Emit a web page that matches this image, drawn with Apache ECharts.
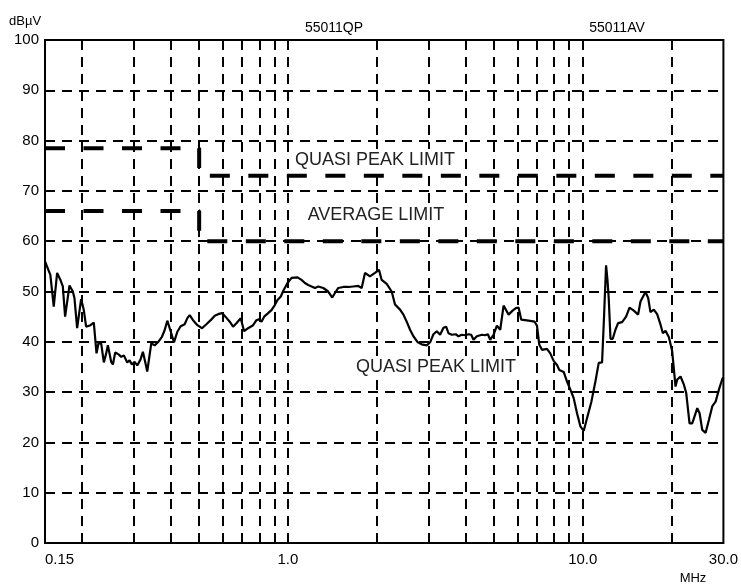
<!DOCTYPE html>
<html><head><meta charset="utf-8">
<script src="https://cdn.jsdelivr.net/npm/echarts@6/dist/echarts.min.js"></script>
<style>html,body{margin:0;padding:0;background:#fff}#c{width:741px;height:584px}</style>
</head><body><div id="c"></div>
<script>
// Measured trace (frequency in MHz, level in dBµV)
const freqMHz = [
0.150,0.1564,0.1606,0.1649,0.1692,0.1724,0.1755,0.1816,0.1864,0.1888,
0.1928,0.1989,0.2031,0.2068,0.2140,0.2196,0.2243,0.2278,0.2326,0.2375,
0.2419,0.2451,0.2516,0.2549,0.2596,0.2664,0.2720,0.2777,0.2851,0.2904,
0.2957,0.3019,0.3083,0.3164,0.3222,0.3281,0.3333,0.3440,0.3531,0.3624,
0.3739,0.3818,0.3899,0.4002,0.4108,0.4216,0.4327,0.4465,0.4560,0.4644,
0.4767,0.4931,0.5113,0.5290,0.5472,0.5647,0.5797,0.5981,0.6138,0.6349,
0.6516,0.6688,0.6919,0.7102,0.7328,0.7621,0.7822,0.7966,0.8134,0.8307,
0.8570,0.8796,0.9028,0.9219,0.9462,0.9636,0.9969,1.029,1.078,1.112,
1.142,1.172,1.203,1.235,1.267,1.318,1.363,1.388,1.414,1.444,
1.482,1.541,1.603,1.666,1.733,1.779,1.826,1.898,1.974,2.037,
2.080,2.163,
2.249,2.308,2.401,2.465,2.529,2.596,2.665,2.757,2.844,2.958,
3.036,3.116,3.199,3.283,3.370,3.441,3.505,3.597,3.711,3.790,
3.890,3.993,4.098,4.184,4.261,4.374,4.549,4.669,4.767,4.855,
4.983,5.115,5.250,5.389,5.604,5.781,5.934,6.059,6.187,6.553,
6.868,6.995,7.124,7.274,7.564,7.762,7.968,8.179,8.329,8.618,
8.845,9.079,9.318,9.564,9.817,10.08,10.34,10.70,11.04,11.33,
11.63,11.79,12.00,12.13,12.25,12.42,12.64,12.91,13.18,13.60,
14.03,14.41,14.90,15.41,15.70,16.32,16.67,16.97,17.42,17.88,
18.36,18.70,19.09,19.60,20.11,20.64,20.92,21.47,22.03,22.44,
23.03,23.52,24.46,24.91,25.43,26.11,26.80,27.51,28.23,28.97,
29.74,30.0
];
const levelDbuV = [
56.0,53.3,47.0,53.7,52.3,51.0,45.0,51.2,50.0,48.7,
42.7,48.5,46.3,43.0,43.3,43.8,37.7,39.7,39.7,35.9,
37.7,39.3,36.0,35.5,37.9,37.5,37.0,37.3,35.9,36.3,
35.5,36.0,35.3,36.5,38.0,36.0,34.1,39.7,39.3,39.9,
41.0,42.3,44.2,42.1,39.9,42.0,43.1,43.5,44.7,45.3,
44.3,43.3,42.7,43.5,44.3,45.2,45.5,45.7,45.0,44.0,
43.0,43.7,44.7,42.1,42.7,43.3,44.3,44.5,44.0,45.0,
45.7,46.3,47.3,48.3,49.0,50.1,51.7,52.7,52.8,52.3,
51.7,51.3,51.0,50.7,51.0,50.7,50.1,49.5,48.8,49.7,
50.7,50.9,50.9,51.0,51.1,50.7,53.7,53.0,53.7,54.3,
52.3,51.5,
50.0,47.4,46.4,45.4,44.0,42.4,41.1,39.9,39.5,39.3,
39.9,41.5,42.1,41.4,42.8,43.0,41.7,41.4,41.5,41.1,
41.4,41.3,41.5,41.4,40.4,41.1,41.4,41.3,41.5,40.4,
41.4,43.2,42.4,47.2,45.4,46.2,46.7,46.8,44.4,44.2,
44.0,43.2,39.4,38.4,38.6,37.7,36.2,35.4,34.4,34.0,
32.1,30.5,28.8,25.8,23.2,22.3,24.8,28.1,32.1,35.8,
35.9,44.0,55.2,52.3,48.7,40.6,40.6,42.4,43.7,43.9,
45.0,46.8,46.2,45.4,48.0,49.9,48.7,45.9,46.4,45.5,
43.4,41.7,42.2,40.9,38.1,31.1,32.5,33.1,31.5,29.8,
23.8,23.8,26.8,25.8,22.5,21.9,24.5,27.2,28.1,30.5,
32.6,32.9
];
// Limit lines (step at 0.5 MHz)
const qpLimitFreq = [0.15, 0.5, 0.5, 30];
const qpLimitLevel = [78.5, 78.5, 73, 73];
const avLimitFreq = [0.15, 0.5, 0.5, 30];
const avLimitLevel = [66, 66, 60, 60];
// Vertical grid frequencies
const gridFreqs = [0.2,0.3,0.4,0.5,0.6,0.7,0.8,0.9,1,2,3,4,5,6,7,8,9,10,20];
const xMin = 0.15, xMax = 30;
const yMin = 0, yMax = 100, yStep = 10;

const FONT = "'Liberation Sans', Arial, Helvetica, sans-serif";
const zip = (a, b) => a.map((v, i) => [v, b[i]]);

const chart = echarts.init(document.getElementById('c'), null, {renderer: 'canvas'});
chart.setOption({
  animation: false,
  backgroundColor: '#fff',
  grid: {left: 45, right: 17, top: 40, bottom: 41, show: true, borderColor: '#000', borderWidth: 2, backgroundColor: 'transparent'},
  xAxis: {
    type: 'log', logBase: 10, min: xMin, max: xMax,
    axisLine: {show: false}, axisTick: {show: false}, splitLine: {show: false}, minorTick: {show: false},
    axisLabel: {
      color: '#000', fontFamily: FONT, fontSize: 15, margin: 9,
      showMinLabel: true, showMaxLabel: true, alignMinLabel: 'left', alignMaxLabel: 'center',
      formatter: v => v < 1 ? (Math.round(v * 100) / 100).toFixed(2) : (Math.round(v * 10) / 10).toFixed(1)
    }
  },
  yAxis: {
    type: 'value', min: yMin, max: yMax, interval: yStep,
    axisLine: {show: false}, axisTick: {show: false},
    splitLine: {show: true, lineStyle: {color: '#000', width: 2, type: [10, 7]}},
    axisLabel: {color: '#000', fontFamily: FONT, fontSize: 15, margin: 6}
  },
  series: [
    {
      name: 'grid', type: 'line', data: [], z: 1, silent: true,
      markLine: {
        silent: true, symbol: ['none', 'none'], label: {show: false},
        lineStyle: {color: '#000', width: 2, type: [10, 7]},
        emphasis: {disabled: true},
        data: gridFreqs.map(f => ({xAxis: f}))
      }
    },
    {
      name: 'QP limit', type: 'line', data: zip(qpLimitFreq, qpLimitLevel), z: 3,
      symbol: 'none', lineStyle: {color: '#000', width: 4, type: [20, 18.5]}
    },
    {
      name: 'AV limit', type: 'line', data: zip(avLimitFreq, avLimitLevel), z: 3,
      symbol: 'none', lineStyle: {color: '#000', width: 4, type: [20, 18.5]}
    },
    {
      name: 'Measurement', type: 'line', data: zip(freqMHz, levelDbuV), z: 4,
      symbol: 'none', lineStyle: {color: '#000', width: 2.2}
    }
  ],
  graphic: [
    {type: 'text', x: 9, y: 21.5, z: 10, style: {text: 'dBµV', fontSize: 13, fontFamily: FONT, fill: '#000', align: 'left', verticalAlign: 'middle'}},
    {type: 'text', x: 334, y: 28, z: 10, style: {text: '55011QP', fontSize: 14, fontFamily: FONT, fill: '#000', align: 'center', verticalAlign: 'middle'}},
    {type: 'text', x: 617, y: 28, z: 10, style: {text: '55011AV', fontSize: 14, fontFamily: FONT, fill: '#000', align: 'center', verticalAlign: 'middle'}},
    {type: 'text', x: 375, y: 160, z: 10, style: {text: 'QUASI PEAK LIMIT', fontSize: 18, fontFamily: FONT, fill: '#222', align: 'center', verticalAlign: 'middle', backgroundColor: '#fff', padding: [2, 3]}},
    {type: 'text', x: 376, y: 215, z: 10, style: {text: 'AVERAGE LIMIT', fontSize: 18, fontFamily: FONT, fill: '#222', align: 'center', verticalAlign: 'middle', backgroundColor: '#fff', padding: [2, 3]}},
    {type: 'text', x: 436, y: 367, z: 10, style: {text: 'QUASI PEAK LIMIT', fontSize: 18, fontFamily: FONT, fill: '#222', align: 'center', verticalAlign: 'middle', backgroundColor: '#fff', padding: [2, 3]}},
    {type: 'text', x: 693, y: 578, z: 10, style: {text: 'MHz', fontSize: 13, fontFamily: FONT, fill: '#000', align: 'center', verticalAlign: 'middle'}}
  ]
});
</script>
</body></html>
